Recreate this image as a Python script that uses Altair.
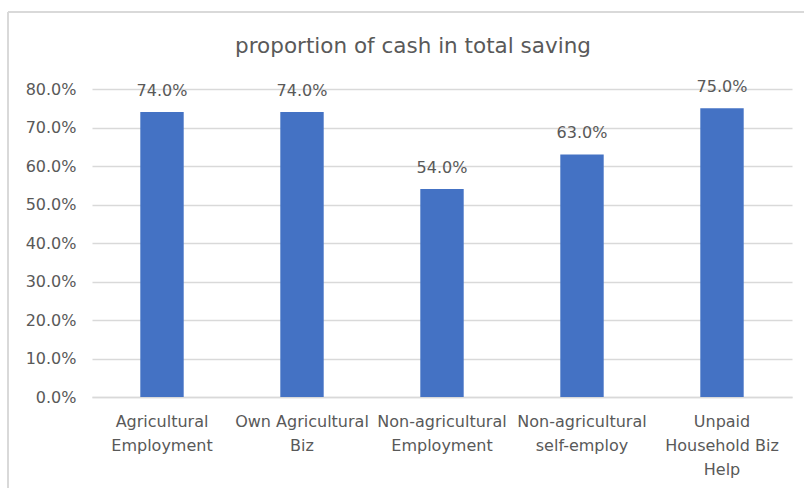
import altair as alt
import pandas as pd

categories = [
    "Agricultural\nEmployment",
    "Own Agricultural\nBiz",
    "Non-agricultural\nEmployment",
    "Non-agricultural\nself-employ",
    "Unpaid\nHousehold Biz\nHelp",
]
values = [0.74, 0.74, 0.54, 0.63, 0.75]
y_ticks = [0.0, 0.1, 0.2, 0.3, 0.4, 0.5, 0.6, 0.7, 0.8]
title_text = "proportion of cash in total saving"

df = pd.DataFrame({"category": categories, "value": values})

FONT = "DejaVu Sans"
TXT = "#595959"
GRID = "#D9D9D9"
FS = 16

x_enc = alt.X(
    "category:N",
    sort=categories,
    scale=alt.Scale(paddingInner=0.69, paddingOuter=0.345),
    axis=alt.Axis(
        title=None,
        labelAngle=0,
        labelExpr="split(datum.label, '\\n')",
        labelFont=FONT,
        labelFontSize=FS,
        labelColor=TXT,
        labelLineHeight=24,
        labelPadding=16,
        labelOverlap=False,
        ticks=False,
        domainColor=GRID,
        domainWidth=1.5,
        labelBaseline="top",
    ),
)
y_enc = alt.Y(
    "value:Q",
    scale=alt.Scale(domain=[0, 0.8], nice=False),
    axis=alt.Axis(
        title=None,
        values=y_ticks,
        format=".1%",
        labelFont=FONT,
        labelFontSize=FS,
        labelColor=TXT,
        labelPadding=16,
        labelOverlap=False,
        ticks=False,
        domain=False,
        gridColor=GRID,
        gridWidth=1.5,
    ),
)

base = alt.Chart(df)
bars = base.mark_bar(color="#4472C4").encode(x=x_enc, y=y_enc)
labels = base.mark_text(
    baseline="bottom", dy=-13, font=FONT, fontSize=FS, color=TXT
).encode(x=x_enc, y=y_enc, text=alt.Text("value:Q", format=".1%"))

frame_top = alt.Chart(df).mark_rule(color=GRID, strokeWidth=1.5).encode(
    x=alt.value(-84), x2=alt.value(720), y=alt.value(-77)
)
frame_left = alt.Chart(df).mark_rule(color=GRID, strokeWidth=1.5).encode(
    x=alt.value(-84), y=alt.value(-77), y2=alt.value(420)
)

chart = (
    alt.layer(frame_top, frame_left, bars, labels)
    .properties(
        width=700,
        height=308,
        padding={"left": 92, "top": 89, "right": 12, "bottom": 91},
        autosize=alt.AutoSizeParams(type="none"),
        title=alt.TitleParams(
            title_text,
            font=FONT,
            fontSize=21.5,
            fontWeight="normal",
            color=TXT,
            anchor="middle",
            frame="group",
            offset=-46,
            dx=-29,
        ),
    )
    .configure_view(stroke=None)
)

chart.save("out.html", embed_options={"renderer": "svg", "actions": False})
